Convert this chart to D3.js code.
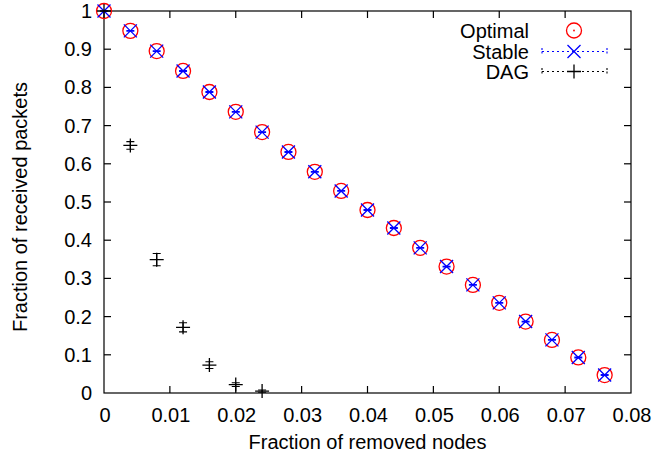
<!DOCTYPE html>
<html><head><meta charset="utf-8">
<script src="https://cdn.jsdelivr.net/npm/d3@7/dist/d3.min.js"></script>
<style>body{margin:0;background:#fff}svg{display:block}text{font-family:"Liberation Sans",Arial,sans-serif}</style>
</head><body><svg id="c" width="656" height="460"></svg>
<script>
const xTicks = [0,0.01,0.02,0.03,0.04,0.05,0.06,0.07,0.08];
const yTicks = [0,0.1,0.2,0.3,0.4,0.5,0.6,0.7,0.8,0.9,1];
const xs = [0,0.004,0.008,0.012,0.016,0.02,0.024,0.028,0.032,0.036,0.04,0.044,0.048,0.052,0.056,0.06,0.064,0.068,0.072,0.076];
const optimal = [1,0.948,0.895,0.843,0.788,0.736,0.683,0.631,0.579,0.529,0.479,0.432,0.38,0.331,0.283,0.236,0.187,0.139,0.093,0.047];
const stable = [1,0.948,0.895,0.843,0.788,0.736,0.683,0.631,0.579,0.529,0.479,0.432,0.38,0.331,0.283,0.236,0.187,0.139,0.093,0.047];
const stableErr = [0,0.001,0.001,0.001,0.001,0.001,0.001,0.001,0.001,0.001,0.001,0.001,0.001,0.001,0.001,0.001,0.001,0.001,0.001,0.001];
const dagX = [0,0.004,0.008,0.012,0.016,0.02,0.024];
const dag = [1,0.648,0.349,0.172,0.073,0.022,0.005];
const dagErr = [0,0.01,0.016,0.012,0.009,0.005,0.003];
const seriesNames = ["Optimal","Stable","DAG"];

const svg = d3.select("#c");
const L=104,R=631,T=11,B=393;
const x = d3.scaleLinear().domain([0,0.08]).range([L,R]);
const y = d3.scaleLinear().domain([0,1]).range([B,T]);
const tl = 7;

// border
svg.append("rect").attr("x",L).attr("y",T).attr("width",R-L).attr("height",B-T)
  .attr("fill","none").attr("stroke","#000").attr("stroke-width",1.2);

// ticks (inward, mirrored)
const g = svg.append("g").attr("stroke","#000").attr("stroke-width",1.2);
xTicks.forEach(v=>{
  if(v===0||v===0.08) return;
  g.append("line").attr("x1",x(v)).attr("x2",x(v)).attr("y1",B).attr("y2",B-tl);
  g.append("line").attr("x1",x(v)).attr("x2",x(v)).attr("y1",T).attr("y2",T+tl);
});
yTicks.forEach(v=>{
  if(v===0||v===1) return;
  g.append("line").attr("x1",L).attr("x2",L+tl).attr("y1",y(v)).attr("y2",y(v));
  g.append("line").attr("x1",R).attr("x2",R-tl).attr("y1",y(v)).attr("y2",y(v));
});
const fs = 20;
xTicks.forEach(v=>{
  svg.append("text").attr("x",x(v)+1).attr("y",B+29).attr("text-anchor","middle")
    .attr("font-size",fs).text(+v.toFixed(2));
});
yTicks.forEach(v=>{
  svg.append("text").attr("x",L-12).attr("y",y(v)+7).attr("text-anchor","end")
    .attr("font-size",fs).text(+v.toFixed(1));
});
svg.append("text").attr("x",(L+R)/2).attr("y",449).attr("text-anchor","middle")
  .attr("font-size",fs).text("Fraction of removed nodes");
svg.append("text").attr("transform",`translate(27,207) rotate(-90)`).attr("text-anchor","middle")
  .attr("font-size",fs).text("Fraction of received packets");

function circle(sel,cx,cy){
  sel.append("circle").attr("cx",cx).attr("cy",cy).attr("r",7.5).attr("fill","none").attr("stroke","#f00").attr("stroke-width",1.3);
  sel.append("circle").attr("cx",cx).attr("cy",cy).attr("r",0.9).attr("fill","#f00");
}
function cross(sel,cx,cy){const s=6.5;sel.append("path").attr("d",`M${cx-s},${cy-s}L${cx+s},${cy+s}M${cx-s},${cy+s}L${cx+s},${cy-s}`).attr("stroke","#00f").attr("stroke-width",1.3).attr("fill","none");}
function plus(sel,cx,cy){const s=7;sel.append("path").attr("d",`M${cx-s},${cy}L${cx+s},${cy}M${cx},${cy-s}L${cx},${cy+s}`).attr("stroke","#000").attr("stroke-width",1.3).attr("fill","none");}
function errbar(sel,cx,lo,hi,col){const c=4;sel.append("path").attr("d",`M${cx},${lo}L${cx},${hi}M${cx-c},${lo}L${cx+c},${lo}M${cx-c},${hi}L${cx+c},${hi}`).attr("stroke",col).attr("stroke-width",1.1).attr("fill","none");}

const pg = svg.append("g");
xs.forEach((v,i)=>circle(pg,x(v),y(optimal[i])));
xs.forEach((v,i)=>{errbar(pg,x(v),y(stable[i]-stableErr[i]),y(stable[i]+stableErr[i]),"#00f");cross(pg,x(v),y(stable[i]));});
dagX.forEach((v,i)=>{errbar(pg,x(v),y(dag[i]-dagErr[i]),y(dag[i]+dagErr[i]),"#000");plus(pg,x(v),y(dag[i]));});

// legend
const lg = svg.append("g");
const rowY=[30.5,51.5,71.5], tx=529, lx1=542, lx2=607, mx=574;
seriesNames.forEach((n,i)=>{
  lg.append("text").attr("x",tx).attr("y",rowY[i]+7).attr("text-anchor","end").attr("font-size",fs).text(n);
});
circle(lg,mx,rowY[0]);
[["#00f",1],["#000",2]].forEach(([col,i])=>{
  const yy=rowY[i];
  lg.append("line").attr("x1",lx1).attr("x2",lx2).attr("y1",yy).attr("y2",yy).attr("stroke",col).attr("stroke-width",1.1).attr("stroke-dasharray","2,3");
  lg.append("line").attr("x1",lx1).attr("x2",lx1).attr("y1",yy-3.5).attr("y2",yy+3.5).attr("stroke",col).attr("stroke-width",1.1).attr("stroke-dasharray","2,1.5");
  lg.append("line").attr("x1",lx2).attr("x2",lx2).attr("y1",yy-3.5).attr("y2",yy+3.5).attr("stroke",col).attr("stroke-width",1.1).attr("stroke-dasharray","2,1.5");
});
cross(lg,mx,rowY[1]);
plus(lg,mx,rowY[2]);
</script></body></html>
